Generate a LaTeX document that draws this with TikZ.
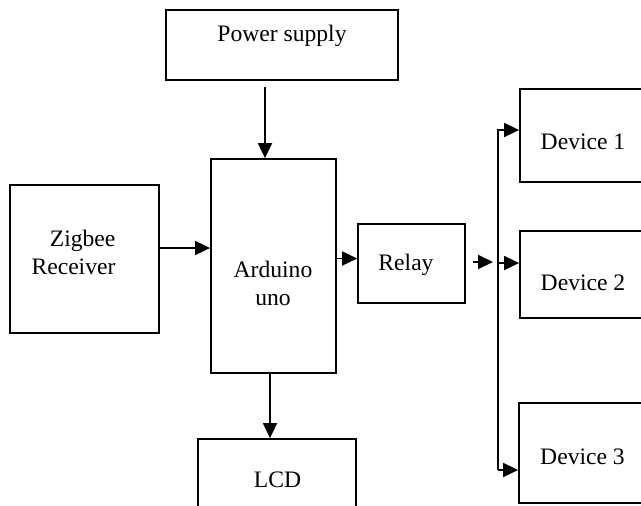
\documentclass[tikz,border=0pt]{standalone}
\usepackage{fontspec}
\setmainfont{Liberation Serif}
\usetikzlibrary{arrows.meta}

\begin{document}
\begin{tikzpicture}[x=0.5pt,y=-0.5pt,line width=0.9pt,
    blk/.style={draw,inner sep=0pt},
    arr/.style={-{Triangle[length=7.5pt,width=7pt]}},
    lbl/.style={font=\fontsize{11.8}{14}\selectfont,inner sep=0pt}]
      \useasboundingbox (0,0) rectangle (641,505);
      \clip (0,0) rectangle (641,505);
      \node[blk,minimum width=116pt,minimum height=35pt] (psu) at (282,45) {};
      \node[blk,minimum width=62.5pt,minimum height=107pt] (arduino) at (273.5,266) {};
      \node[blk,minimum width=74.5pt,minimum height=74pt] (zigbee) at (84.5,259) {};
      \node[blk,minimum width=53.5pt,minimum height=39.5pt] (relay) at (411.5,263.5) {};
      \node[blk,minimum width=79pt,minimum height=43pt] (lcd) at (277,482) {};
      \node[blk,minimum width=63pt,minimum height=46.5pt] (dev1) at (583,135.5) {};
      \node[blk,minimum width=63pt,minimum height=43.5pt] (dev2) at (583,274.5) {};
      \node[blk,minimum width=63.5pt,minimum height=50pt] (dev3) at (582.5,453) {};
      \node[lbl] (psutxt) at (282,36) {Power supply};
      \node[lbl,align=right] (zigtxt) at (73.5,252) {Zigbee\\Receiver};
      \node[lbl,align=center] (ardtxt) at (273,283) {Arduino\\uno};
      \node[lbl] (reltxt) at (406,265) {Relay};
      \node[lbl] (lcdtxt) at (277.5,480) {LCD};
      \node[lbl] (dev1txt) at (583,142) {Device 1};
      \node[lbl] (dev2txt) at (583,283) {Device 2};
      \node[lbl] (dev3txt) at (582.5,457) {Device 3};
      \coordinate (psuout) at ([xshift=-8.5pt,yshift=-3pt]psu.south);
      \coordinate (zigout) at ([yshift=5.5pt]zigbee.east);
      \coordinate (relin) at ([yshift=2.5pt]relay.west);
      \coordinate (lcdin) at ([xshift=-1.75pt]arduino.south);
      \coordinate (relout) at ([xshift=3.5pt,yshift=0.75pt]relay.east);
      \coordinate (bus) at (498,0);
      \coordinate (d1in) at ([yshift=2.75pt]dev1.west);
      \coordinate (d2in) at ([yshift=5.75pt]dev2.west);
      \coordinate (d3in) at ([yshift=-8.5pt]dev3.west);
      \draw[arr] (psuout) -- (psuout |- arduino.north);
      \draw[arr] (zigout) -- (zigout -| arduino.west);
      \draw[arr] (arduino.east |- relin) -- (relin);
      \draw[arr] (lcdin) -- (lcdin |- lcd.north);
      \draw[arr] (relout) -- ([xshift=-2.5pt]relout -| bus);
      \draw[arr] (bus |- d3in) -- (bus |- d1in) -- (d1in);
      \draw[arr] (bus |- d2in) -- (d2in);
      \draw[arr] (bus |- d3in) -- (d3in);
    \end{tikzpicture}
\end{document}
